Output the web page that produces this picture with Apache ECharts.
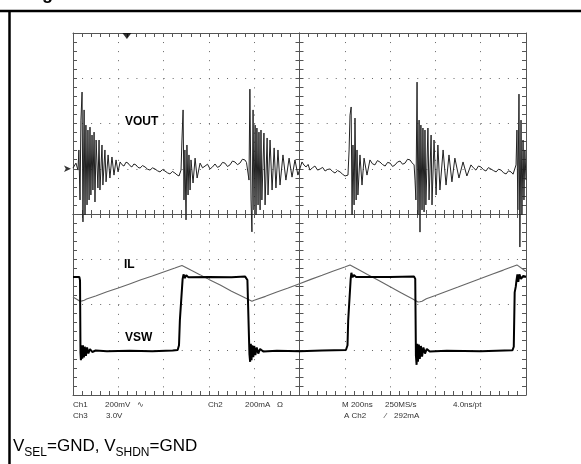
<!DOCTYPE html>
<html><head><meta charset="utf-8">
<script src="https://cdn.jsdelivr.net/npm/echarts@6/dist/echarts.min.js"></script>
<style>html,body{margin:0;padding:0;background:#fff}#c{width:581px;height:464px}</style>
</head><body><div id="c"></div>
<script>
// Time in ns from left screen edge (200 ns/div), values in channel units
const vout = [[0,3],[13,25],[22,-6],[26,83],[31,-138],[35,215],[40,339],[44,-235],[49,260],[53,-204],[57,193],[62,-160],[66,171],[71,-138],[75,184],[79,-116],[84,149],[88,-94],[93,162],[97,-147],[102,127],[110,-85],[115,127],[119,-94],[128,105],[132,-72],[141,83],[146,-58],[155,61],[163,-41],[172,52],[181,-28],[190,39],[199,-14],[208,30],[216,18],[225,12],[234,29],[243,25],[251,14],[260,8],[269,21],[278,17],[287,6],[296,3],[307,14],[318,8],[329,-2],[340,-6],[351,4],[362,-1],[373,-9],[384,-14],[395,-4],[406,-10],[417,-18],[428,-23],[439,-12],[450,-19],[459,-27],[468,-32],[477,-6],[481,127],[486,260],[490,-138],[494,83],[499,-226],[503,105],[508,-116],[512,61],[517,-94],[521,39],[530,-63],[539,47],[548,-41],[561,25],[572,4],[583,12],[594,20],[605,-1],[616,8],[627,21],[638,6],[649,12],[660,28],[671,25],[682,10],[693,17],[704,34],[715,30],[726,18],[737,25],[748,42],[759,39],[766,28],[773,25],[777,-50],[781,352],[786,-138],[790,-279],[795,260],[799,-182],[804,193],[808,-204],[812,180],[817,-160],[821,162],[826,-182],[830,171],[834,-138],[843,158],[848,-160],[857,136],[861,-116],[870,127],[879,-94],[888,92],[896,-85],[905,83],[914,-72],[927,61],[940,-50],[954,47],[967,-37],[980,39],[993,-28],[1011,30],[1020,16],[1029,8],[1038,19],[1046,-6],[1057,4],[1068,12],[1080,-6],[1091,-1],[1102,6],[1113,-10],[1124,-3],[1135,-1],[1146,-12],[1157,-19],[1168,-8],[1179,-14],[1190,-24],[1201,-32],[1214,-28],[1219,83],[1223,237],[1228,273],[1232,-204],[1236,105],[1241,-160],[1245,224],[1250,-138],[1254,83],[1258,-116],[1267,61],[1276,-72],[1285,47],[1298,-28],[1311,39],[1322,22],[1333,17],[1344,36],[1355,30],[1366,19],[1378,12],[1389,28],[1400,25],[1411,10],[1422,17],[1433,30],[1444,34],[1455,20],[1466,25],[1477,42],[1488,39],[1497,26],[1506,17],[1510,-50],[1514,-138],[1519,383],[1523,-204],[1528,215],[1532,-280],[1536,193],[1541,-182],[1545,180],[1550,-191],[1554,171],[1558,-160],[1567,180],[1572,-138],[1581,149],[1585,-160],[1594,127],[1603,-116],[1611,105],[1620,-94],[1634,83],[1647,-72],[1660,61],[1673,-58],[1686,47],[1704,-41],[1722,30],[1739,-32],[1757,17],[1768,4],[1779,-6],[1790,12],[1801,8],[1812,-4],[1823,-10],[1834,5],[1845,-1],[1856,-8],[1868,-14],[1879,-2],[1890,-6],[1901,-18],[1912,-23],[1923,-9],[1934,-14],[1943,-24],[1951,-28],[1956,17],[1960,171],[1964,-182],[1969,330],[1973,-346],[1978,215],[1982,-204],[1987,127],[1991,-138],[1995,83],[2000,-50]];
const il = [[0,233],[31,214],[36,220],[40,216],[45,222],[50,219],[60,224],[100,238],[150,256],[200,273],[250,291],[300,309],[350,326],[400,344],[450,361],[481,372],[520,352],[560,332],[600,311],[650,286],[700,259],[750,234],[790,214],[800,219],[806,216],[850,236],[900,255],[950,273],[1000,292],[1050,311],[1100,329],[1150,348],[1200,366],[1223,375],[1260,355],[1300,333],[1350,306],[1400,278],[1450,251],[1500,224],[1523,211],[1528,216],[1532,212],[1537,219],[1541,214],[1546,221],[1560,225],[1600,240],[1650,259],[1700,277],[1750,296],[1800,315],[1850,334],[1900,352],[1960,375],[2000,346]];
const vsw = [[0,4.82],[28,4.82],[31,4.6],[33,-0.2],[35,-0.7],[38,0.3],[41,-0.6],[44,0.3],[48,-0.5],[52,0.2],[57,-0.4],[62,0.15],[68,-0.25],[75,0.05],[85,-0.15],[100,-0.05],[150,-0.1],[250,-0.06],[350,-0.1],[440,-0.05],[462,-0.02],[468,0.3],[472,2.0],[480,2.1],[484,4.7],[488,5.0],[494,4.75],[500,4.95],[510,4.8],[600,4.82],[700,4.8],[760,4.85],[770,4.62],[776,4.5],[779,-0.3],[782,-0.8],[785,0.4],[788,-0.7],[792,0.3],[796,-0.5],[800,0.25],[805,-0.35],[811,0.15],[818,-0.25],[826,0.05],[840,-0.12],[900,-0.06],[1000,-0.1],[1100,-0.05],[1205,-0.02],[1212,0.3],[1215,1.95],[1222,2.05],[1226,4.7],[1229,5.1],[1234,4.8],[1240,4.95],[1250,4.82],[1400,4.82],[1506,4.85],[1511,4.7],[1514,-0.4],[1517,-1.0],[1520,0.4],[1523,-0.8],[1527,0.35],[1531,-0.6],[1536,0.25],[1541,-0.45],[1547,0.15],[1554,-0.25],[1562,0.05],[1575,-0.12],[1650,-0.06],[1800,-0.1],[1940,-0.04],[1946,0.2],[1950,3.8],[1955,4.2],[1958,4.6],[1962,5.0],[1966,4.5],[1971,5.0],[1978,4.7],[1988,4.9],[2000,4.85]];

const ch1 = {offset: 1, scale: 200};   // mV/div
const ch2 = {offset: -3, scale: 200};  // mA/div
const ch3 = {offset: -3, scale: 3};    // V/div
const triggerTime = 238;
const traceNames = ['VOUT', 'IL', 'VSW'];
const scopeRow1 = ['Ch1', '200mV', '\u223F', 'Ch2', '200mA', '\u03A9', 'M 200ns', '250MS/s', '4.0ns/pt'];
const scopeRow2 = ['Ch3', '3.0V', 'A Ch2', '\u2044', '292mA'];

const G = '#555';
function axBase(extra) {
  return Object.assign({
    type: 'value', min: 0, max: 2000, interval: 200,
    axisLabel: {show: false},
    axisLine: {show: true, onZero: false, lineStyle: {color: G, width: 1}},
    axisTick: {show: true, inside: true, length: 4, lineStyle: {color: G}},
    minorTick: {show: true, splitNumber: 5, length: 4, lineStyle: {color: G}},
    splitLine: {show: false}
  }, extra);
}
function yBase(extra) {
  return axBase(Object.assign({min: -4, max: 4, interval: 1}, extra));
}
const dotted = {show: true, lineStyle: {color: '#666', type: [1, 8.06], width: 1}};
const onZ = (idx) => ({show: true, onZero: true, onZeroAxisIndex: idx, lineStyle: {color: G, width: 1}});

const conv = (arr, ch) => arr.map(p => [p[0], ch.offset + p[1] / ch.scale]);

const txt = (s, x, y, o) => ({type: 'text', x: x, y: y, silent: true,
  style: Object.assign({text: s, fill: '#333', font: '8px "Liberation Sans", Arial, sans-serif', verticalAlign: 'middle'}, o || {})});

const row1X = [73, 105, 137, 208, 245, 277, 342, 385, 453];
const row2X = [73, 106, 344, 385, 394];
const graphics = [];
scopeRow1.forEach((s, i) => graphics.push(txt(s, row1X[i], 405, (s === '\u223F') ? {font: '8px "DejaVu Sans"'} : null)));
scopeRow2.forEach((s, i) => graphics.push(txt(s, row2X[i], 416)));
const lblPos = [[125, 121.5], [124, 265], [125, 337.5]];
traceNames.forEach((s, i) => graphics.push(txt(s, lblPos[i][0], lblPos[i][1], {fill: '#000', font: 'bold 12px "Liberation Sans", Arial, sans-serif'})));
// frame
graphics.push({type: 'line', silent: true, shape: {x1: 0, y1: 11, x2: 581, y2: 11}, style: {stroke: '#000', lineWidth: 2.5}});
graphics.push({type: 'line', silent: true, shape: {x1: 9.5, y1: 11, x2: 9.5, y2: 464}, style: {stroke: '#000', lineWidth: 2.5}});
graphics.push({type: 'text', x: 42, y: -15, silent: true, style: {text: 'g', fill: '#000', font: 'bold 18px "Liberation Sans", Arial', verticalAlign: 'top'}});
graphics.push({type: 'text', x: 13, y: 448, silent: true, style: {
  text: '{m|V}{s|SEL}{m|=GND, V}{s|SHDN}{m|=GND}', verticalAlign: 'middle',
  rich: {
    m: {fontSize: 17, fontFamily: '"Liberation Sans", Arial, sans-serif', fill: '#000', verticalAlign: 'bottom', padding: [0, 0, 4, 0]},
    s: {fontSize: 12, fontFamily: '"Liberation Sans", Arial, sans-serif', fill: '#000', verticalAlign: 'bottom'}
  }}});

const chart = echarts.init(document.getElementById('c'), null, {renderer: 'canvas', devicePixelRatio: 1});
chart.setOption({
  animation: false,
  backgroundColor: '#fff',
  grid: {left: 73, top: 33, width: 453, height: 362, containLabel: false},
  xAxis: [
    axBase({position: 'bottom', splitLine: dotted}),
    axBase({position: 'top'}),
    axBase({position: 'bottom', axisLine: onZ(0)}),
    axBase({position: 'top', axisLine: onZ(0)}),
    {type: 'value', min: -1000, max: 1000, show: false}
  ],
  yAxis: [
    yBase({position: 'left', splitLine: dotted}),
    yBase({position: 'right'}),
    yBase({position: 'left', axisLine: onZ(4)}),
    yBase({position: 'right', axisLine: onZ(4)})
  ],
  series: [
    {type: 'line', name: 'IL', data: conv(il, ch2), showSymbol: false, symbol: 'none', z: 3,
      lineStyle: {color: '#666', width: 1.1}},
    {type: 'line', name: 'VSW', data: conv(vsw, ch3), showSymbol: false, symbol: 'none', z: 4,
      lineStyle: {color: '#000', width: 2}},
    {type: 'line', name: 'VOUT', data: conv(vout, ch1), showSymbol: false, symbol: 'none', z: 5,
      lineStyle: {color: '#222', width: 1}},
    {type: 'scatter', name: 'markers', z: 6, silent: true,
      data: [
        {value: [triggerTime, 4], symbol: 'triangle', symbolRotate: 180, symbolSize: [9, 6], symbolOffset: [0, 3]},
        {value: [0, ch1.offset], symbol: 'arrow', symbolRotate: -90, symbolSize: [5, 7], symbolOffset: [-2, 0]}
      ],
      itemStyle: {color: '#000'}}
  ],
  graphic: graphics
});
</script></body></html>
